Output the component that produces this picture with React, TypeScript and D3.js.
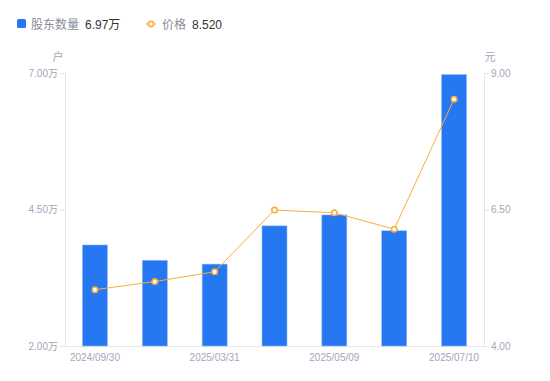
import React from "react";
import * as d3 from "d3";

const categories = ["2024/09/30", "2024/12/31", "2025/03/31", "2025/04/18", "2025/05/09", "2025/06/10", "2025/07/10"];
const holders = [3.85, 3.57, 3.5, 4.2, 4.4, 4.11, 6.97];
const prices = [5.03, 5.18, 5.36, 6.49, 6.44, 6.14, 8.52];
const leftTicks = [2, 4.5, 7];
const rightTicks = [4, 6.5, 9];

const W = 550, H = 381;
const M = { left: 65, right: 484, top: 73, bottom: 346 };
const FONT = "'Liberation Sans', Arial, 'Noto Sans CJK SC', sans-serif";
const BLUE = "#2577F2";
const ORANGE = "#F8AE3C";
const GRAY = "#a3a6b8";

export default function App() {
  const x = d3.scaleBand<string>().domain(categories).range([M.left, M.right]).paddingInner(0).paddingOuter(0);
  const yL = d3.scaleLinear().domain([2, 7]).range([M.bottom, M.top]);
  const yR = d3.scaleLinear().domain([4, 9]).range([M.bottom, M.top]);
  const bw = 25;
  const cx = (c: string) => (x(c) as number) + x.bandwidth() / 2;
  const line = d3.line<number>().x((_, i) => cx(categories[i])).y((d) => yR(d));

  return (
    <svg width={W} height={H} style={{ position: "absolute", left: 0, top: 0, fontFamily: FONT }}>
      <rect width={W} height={H} fill="#fff" />
      {/* legend */}
      <rect x={17} y={19} width={9} height={9} rx={1.5} fill={BLUE} />
      <text x={31} y={28.5} fontSize={12} fill="#8a8d9e">股东数量</text>
      <text x={85} y={28.5} fontSize={12} fill="#333">{holders[holders.length - 1].toFixed(2)}万</text>
      <line x1={146} x2={156} y1={24} y2={24} stroke={ORANGE} strokeWidth={1.2} />
      <circle cx={151} cy={24} r={2.6} fill="#fff" stroke={ORANGE} strokeWidth={1.6} />
      <text x={162} y={28.5} fontSize={12} fill="#8a8d9e">价格</text>
      <text x={192} y={28.5} fontSize={12} fill="#333">{prices[prices.length - 1].toFixed(3)}</text>

      {/* units */}
      <text x={58} y={61} fontSize={11} fill={GRAY} textAnchor="middle">户</text>
      <text x={490} y={61} fontSize={11} fill={GRAY} textAnchor="middle">元</text>

      {/* axes */}
      <line x1={M.left + 0.5} x2={M.left + 0.5} y1={M.top} y2={M.bottom} stroke="#e6e6ea" />
      <line x1={M.right + 0.5} x2={M.right + 0.5} y1={M.top} y2={M.bottom} stroke="#e6e6ea" />
      <line x1={M.left} x2={M.right} y1={M.bottom + 0.5} y2={M.bottom + 0.5} stroke="#e6e6ea" />
      {leftTicks.map((t) => (
        <g key={"l" + t}>
          <line x1={M.left - 5} x2={M.left} y1={yL(t) + 0.5} y2={yL(t) + 0.5} stroke="#e6e6ea" />
          <text x={M.left - 7} y={yL(t) + 3.5} fontSize={10} fill={GRAY} textAnchor="end">{t.toFixed(2)}万</text>
        </g>
      ))}
      {rightTicks.map((t) => (
        <g key={"r" + t}>
          <line x1={M.right} x2={M.right + 5} y1={yR(t) + 0.5} y2={yR(t) + 0.5} stroke="#e6e6ea" />
          <text x={M.right + 7} y={yR(t) + 3.5} fontSize={10} fill={GRAY}>{t.toFixed(2)}</text>
        </g>
      ))}
      {categories.map((c, i) =>
        i % 2 === 0 ? (
          <text key={c} x={cx(c)} y={361} fontSize={10} fill={GRAY} textAnchor="middle">{c}</text>
        ) : null
      )}

      {/* bars */}
      {holders.map((v, i) => (
        <rect key={i} x={cx(categories[i]) - bw / 2} y={yL(v)} width={bw} height={M.bottom - yL(v)}
          fill={BLUE} stroke="#8cb8f8" strokeWidth={0.6} />
      ))}

      {/* price line */}
      <path d={line(prices) || ""} fill="none" stroke={ORANGE} strokeWidth={1} />
      {prices.map((p, i) => (
        <circle key={i} cx={cx(categories[i])} cy={yR(p)} r={2.7} fill="#fff" stroke={ORANGE} strokeWidth={1.6} />
      ))}
    </svg>
  );
}
